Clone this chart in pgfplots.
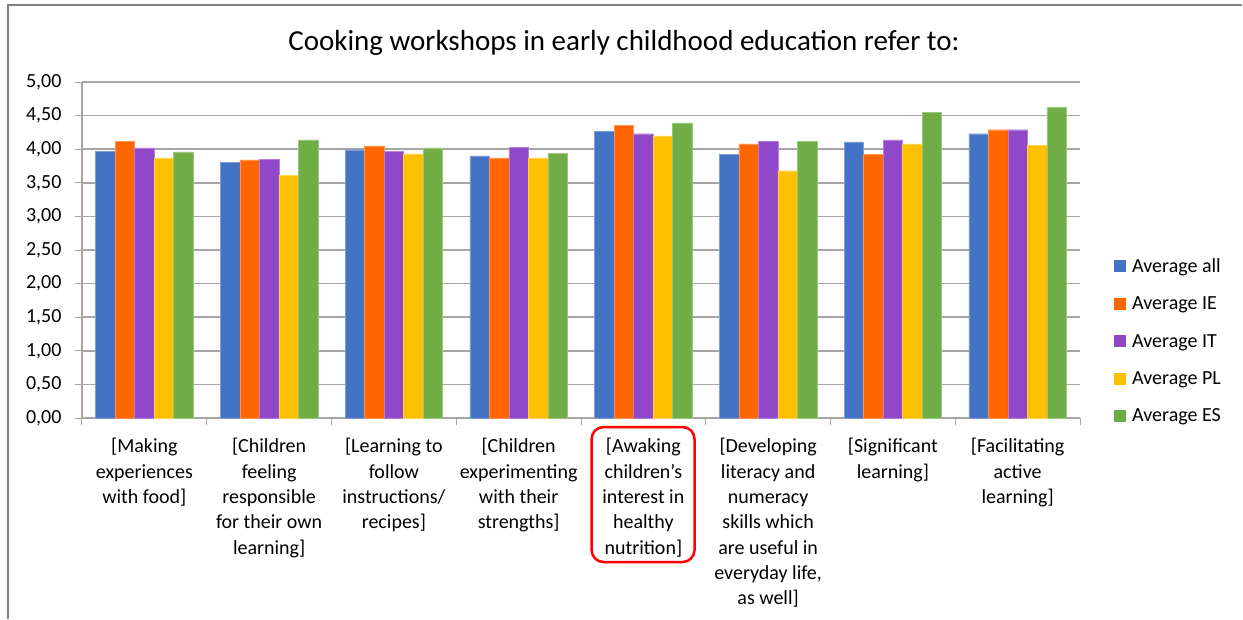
\documentclass[border=0pt]{standalone}
\usepackage{pgfplots}
\pgfplotsset{compat=1.18}
\usepackage{fontspec}
\setmainfont{Carlito}

\definecolor{cAll}{HTML}{4472C4}
\definecolor{cIE}{HTML}{FF6600}
\definecolor{cIT}{HTML}{9148C8}
\definecolor{cPL}{HTML}{FFC000}
\definecolor{cES}{HTML}{70AD47}
\definecolor{gridc}{HTML}{A6A6A6}

% one table per series, x = category index
\pgfplotstableread{
x y
0 3.97
1 3.80
2 3.99
3 3.90
4 4.27
5 3.92
6 4.11
7 4.23
}\avgall
\pgfplotstableread{
x y
0 4.12
1 3.84
2 4.05
3 3.87
4 4.35
5 4.08
6 3.92
7 4.29
}\avgie
\pgfplotstableread{
x y
0 4.02
1 3.85
2 3.97
3 4.03
4 4.23
5 4.12
6 4.14
7 4.29
}\avgit
\pgfplotstableread{
x y
0 3.87
1 3.61
2 3.93
3 3.87
4 4.20
5 3.68
6 4.08
7 4.06
}\avgpl
\pgfplotstableread{
x y
0 3.96
1 4.14
2 4.02
3 3.94
4 4.39
5 4.12
6 4.55
7 4.62
}\avges

\begin{document}
\begin{tikzpicture}
\path (-82pt,-201pt) rectangle (1161pt,418pt);
\draw[gray, line width=1.2pt] (-74pt,-201pt) -- (-74pt,413pt) -- (1160pt,413pt);
\node[font=\fontsize{29}{33}\selectfont] at (542pt,375pt) {Cooking workshops in early childhood education refer to:};
\begin{axis}[
    at={(0,0)}, anchor=south west,
    scale only axis,
    width=998pt, height=336pt,
    ybar=0pt, bar width=19.5pt,
    xmin=-0.5, xmax=7.5,
    ymin=0, ymax=5,
    ytick={0,0.5,...,5},
    xtick={0,...,7},
    major x tick style={draw=none},
    minor xtick={-0.5,0.5,...,7.5},
    minor x tick style={gridc, line width=1pt},
    minor tick length=7pt,
    major y tick style={gridc, line width=1pt},
    major tick length=7pt,
    tick align=outside,
    axis lines*=left,
    axis line style={-, gridc, line width=1.5pt},
    ymajorgrids=true,
    grid style={gridc, line width=1.5pt},
    clip=false,
    tick label style={font=\fontsize{20}{25.3}\selectfont},
    yticklabel style={xshift=-10pt, /pgf/number format/.cd, fixed, fixed zerofill, precision=2, use comma, assume math mode=true},
    xticklabel style={align=center, yshift=-10pt},
    xticklabels={
      {[Making\\experiences\\with food]},
      {[Children\\feeling\\responsible\\for their own\\learning]},
      {[Learning to\\follow\\instructions/\\recipes]},
      {[Children\\experimenting\\with their\\strengths]},
      {[Awaking\\children’s\\interest in\\healthy\\nutrition]},
      {[Developing\\literacy and\\numeracy\\skills which\\are useful in\\everyday life,\\as well]},
      {[Significant\\learning]},
      {[Facilitating\\active\\learning]}
    },
    legend style={at={(1.031,0.487)}, anchor=north west, draw=none,
      font=\fontsize{20}{24}\selectfont, row sep=19pt},
    legend cell align=left,
    legend image code/.code={\fill[#1, draw=none] (0pt,-6pt) rectangle (12pt,6pt);
      \path[draw=none, fill=none] (0pt,0pt) -- (16pt,0pt);},
]
\addplot[fill=cAll, draw=cAll!70!white] table[x=x,y=y] {\avgall};
\addplot[fill=cIE, draw=cIE!70!white] table[x=x,y=y] {\avgie};
\addplot[fill=cIT, draw=cIT!70!white] table[x=x,y=y] {\avgit};
\addplot[fill=cPL, draw=cPL!70!white] table[x=x,y=y] {\avgpl};
\addplot[fill=cES, draw=cES!70!white] table[x=x,y=y] {\avges};
\legend{Average all, Average IE, Average IT, Average PL, Average ES}
\draw[red, line width=2.5pt, rounded corners=12pt]
  (axis cs:3.585,-0.134) rectangle (axis cs:4.41,-2.143);
\end{axis}
\end{tikzpicture}
\end{document}
